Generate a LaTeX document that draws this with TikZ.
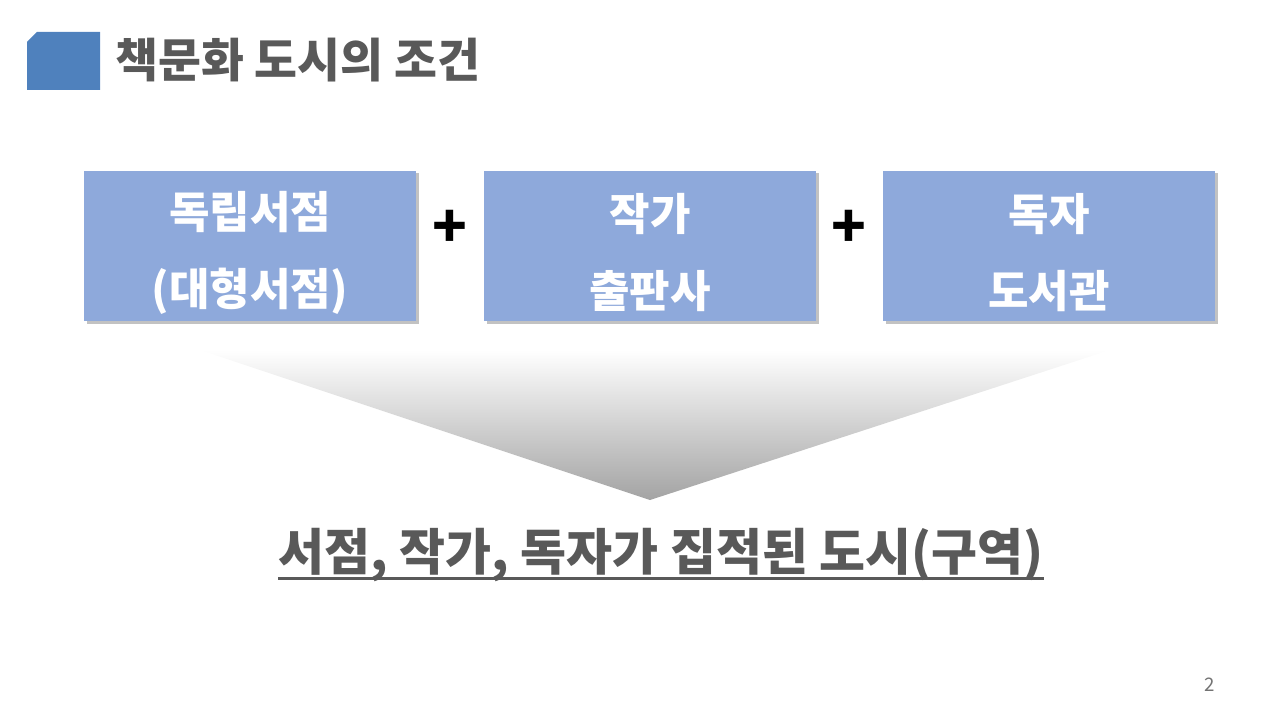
\documentclass[tikz,border=0pt]{standalone}
\usepackage{fontspec}
\setmainfont{Noto Sans CJK KR}
\usetikzlibrary{shadows}
\definecolor{titlegray}{HTML}{595959}
\definecolor{iconblue}{HTML}{4F81BD}
\definecolor{boxblue}{HTML}{8EA9DB}

\begin{document}
\begin{tikzpicture}
                [
                x=0.75pt,y=-0.75pt,
                box/.style={fill=boxblue,minimum width=249pt,minimum height=113pt,inner sep=0pt,
                    drop shadow={shadow xshift=2pt,shadow yshift=-2pt,opacity=0.4,fill=black!60}},
                boxtext/.style={text=white,align=center,inner sep=0pt,font=\bfseries\fontsize{33}{57.75}\selectfont},
                plus/.style={font=\bfseries\fontsize{43}{43}\selectfont,inner sep=0pt}
                ]
            \useasboundingbox (0,0) rectangle (1280,720);
            \fill[iconblue] (27,42) -- (37,32) -- (100,32) -- (100,90) -- (27,90) -- cycle;
            \node[anchor=west,inner sep=0pt,text=titlegray,font=\bfseries\fontsize{35}{35}\selectfont] (title) at (115,60) {책문화 도시의 조건};
            \shade[top color=white,middle color=black!9,bottom color=black!36] (200,350) -- (1110,350) -- (650,500) -- cycle;
            \node[box] (store) at (250,246) {};
            \node[box] (writer) at (650,246) {};
            \node[box] (reader) at (1049,246) {};
            \node[boxtext] (storetext) at ([yshift=-5pt]store.center) {독립서점\\(대형서점)};
            \node[boxtext] (writertext) at ([yshift=-5pt]writer.center) {작가\\출판사};
            \node[boxtext] (readertext) at ([yshift=-5pt]reader.center) {독자\\도서관};
            \node[plus] (p1) at (450,229) {+};
            \node[plus] (p2) at (849,229) {+};
            \node[text=titlegray,font=\bfseries\fontsize{37.5}{37.5}\selectfont,inner sep=0pt] (city) at (661,555) {서점, 작가, 독자가 집적된 도시(구역)};
            \draw[titlegray,line width=2.2pt] ([yshift=-6pt]city.base west) -- ([yshift=-6pt]city.base east);
            \node[text=black!55,font=\fontsize{14}{14}\selectfont] (page) at (1210,685) {2};
            \end{tikzpicture}
\end{document}
